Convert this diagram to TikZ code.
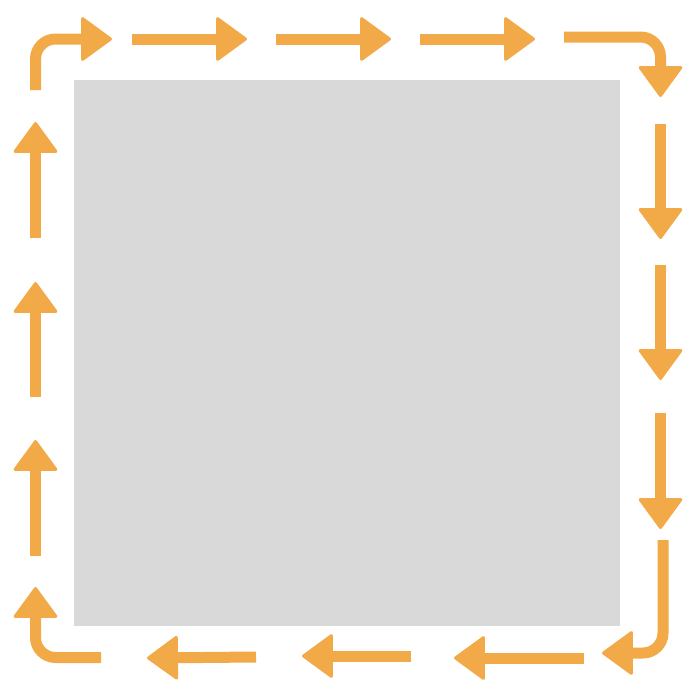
\documentclass[tikz,border=0pt]{standalone}
\usetikzlibrary{arrows.meta}
\definecolor{flow}{HTML}{F2A947}
\definecolor{panel}{HTML}{D9D9D9}
\begin{document}
\begin{tikzpicture}[x=1pt,y=-1pt,
  flowarrow/.style={draw=flow,line width=11pt,rounded corners=20pt,
    -{Triangle[length=32pt,width=46pt,line width=3pt,round,fill=flow]}}]
\useasboundingbox (0,0) rectangle (698,696);
\fill[panel] (74,80) rectangle (620,626);
% top
\coordinate (a1s) at (35.5,90);   \coordinate (a1e) at (112,39);
\coordinate (a2s) at (132,39);    \coordinate (a2e) at (247,39);
\coordinate (a3s) at (276,39);    \coordinate (a3e) at (391,39);
\coordinate (a4s) at (420,39);    \coordinate (a4e) at (535,39);
\coordinate (a5s) at (564,37);    \coordinate (a5e) at (660.5,97);
% right
\coordinate (a6s) at (660.5,124); \coordinate (a6e) at (660.5,239);
\coordinate (a7s) at (660.5,265); \coordinate (a7e) at (660.5,380);
\coordinate (a8s) at (660.5,413); \coordinate (a8e) at (660.5,529);
\coordinate (a9s) at (663,540);   \coordinate (a9e) at (602,653);
% bottom
\coordinate (a10s) at (584,658);  \coordinate (a10e) at (454,658);
\coordinate (a11s) at (411,656);  \coordinate (a11e) at (302,656);
\coordinate (a12s) at (256,657);  \coordinate (a12e) at (147,658);
\coordinate (a13s) at (101,657.5);\coordinate (a13e) at (35.5,587);
% left
\coordinate (a14s) at (35.5,556); \coordinate (a14e) at (35.5,440);
\coordinate (a15s) at (35.5,397); \coordinate (a15e) at (35.5,282);
\coordinate (a16s) at (35.5,238); \coordinate (a16e) at (35.5,122);

\draw[flowarrow] (a1s) |- (a1e);
\draw[flowarrow] (a2s) -- (a2e);
\draw[flowarrow] (a3s) -- (a3e);
\draw[flowarrow] (a4s) -- (a4e);
\draw[flowarrow] (a5s) -| (a5e);
\draw[flowarrow] (a6s) -- (a6e);
\draw[flowarrow] (a7s) -- (a7e);
\draw[flowarrow] (a8s) -- (a8e);
\draw[flowarrow] (a9s) |- (a9e);
\draw[flowarrow] (a10s) -- (a10e);
\draw[flowarrow] (a11s) -- (a11e);
\draw[flowarrow] (a12s) -- (a12e);
\draw[flowarrow] (a13s) -| (a13e);
\draw[flowarrow] (a14s) -- (a14e);
\draw[flowarrow] (a15s) -- (a15e);
\draw[flowarrow] (a16s) -- (a16e);
\end{tikzpicture}
\end{document}
